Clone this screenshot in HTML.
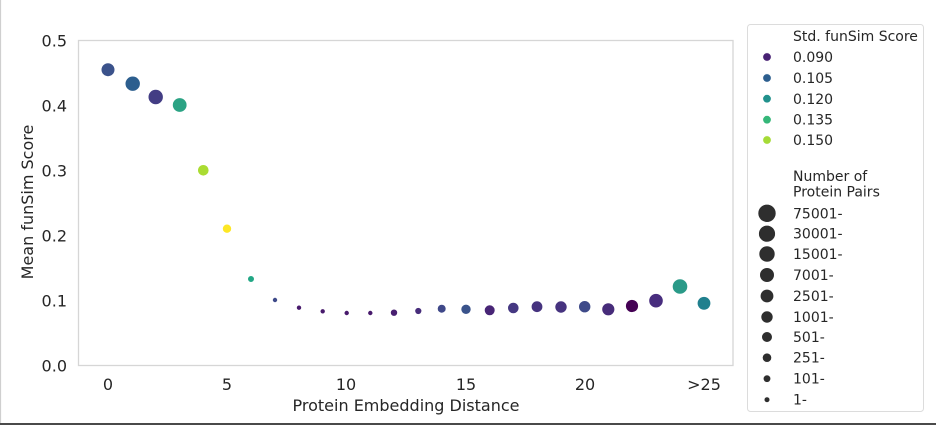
<!DOCTYPE html>
<html><head><meta charset="utf-8">
<style>
html,body{margin:0;padding:0;background:#fff;}
body{width:936px;height:426px;overflow:hidden;}
svg text{font-family:"DejaVu Sans","Liberation Sans",sans-serif;fill:#262626;}
</style></head><body>
<svg width="936" height="426" viewBox="0 0 936 426" xmlns="http://www.w3.org/2000/svg">
<rect x="0" y="0" width="936" height="426" fill="#fff"/>
<line x1="0.5" y1="0" x2="0.5" y2="423" stroke="#cfcfcf" stroke-width="1.2"/>
<line x1="0" y1="424" x2="936" y2="424" stroke="#4a4a4a" stroke-width="2"/>
<!-- plot frame -->
<rect x="78.5" y="40.5" width="654.5" height="325" fill="none" stroke="#d6d6d6" stroke-width="1.3"/>
<!-- y ticks -->
<g font-size="16" text-anchor="end">
<text x="67" y="46.5">0.5</text>
<text x="67" y="111.5">0.4</text>
<text x="67" y="176.5">0.3</text>
<text x="67" y="241.5">0.2</text>
<text x="67" y="306.5">0.1</text>
<text x="67" y="371.5">0.0</text>
</g>
<g font-size="16" text-anchor="middle">
<text x="108" y="390">0</text>
<text x="227" y="390">5</text>
<text x="346" y="390">10</text>
<text x="466" y="390">15</text>
<text x="585" y="390">20</text>
<text x="704" y="390">&gt;25</text>
<text x="406" y="411">Protein Embedding Distance</text>
<text transform="translate(33,202) rotate(-90)">Mean funSim Score</text>
</g>
<!-- points -->
<g stroke="#fff" stroke-width="0.8">
<circle cx="108" cy="69.7" r="6.9" fill="#3b528b"/>
<circle cx="132.7" cy="83.7" r="7.6" fill="#2c5e8e"/>
<circle cx="155.7" cy="97" r="7.6" fill="#433d84"/>
<circle cx="179.7" cy="105" r="7.3" fill="#2ba384"/>
<circle cx="203.3" cy="170.3" r="5.7" fill="#aadc32"/>
<circle cx="227" cy="228.7" r="4.6" fill="#fde725"/>
<circle cx="251" cy="279" r="3.4" fill="#22a785"/>
<circle cx="275" cy="300" r="2.6" fill="#3e4a89"/>
<circle cx="299" cy="307.7" r="2.6" fill="#481a6c"/>
<circle cx="322.7" cy="311.3" r="2.6" fill="#481a6c"/>
<circle cx="346.7" cy="313" r="2.6" fill="#481a6c"/>
<circle cx="370.3" cy="313" r="2.6" fill="#481a6c"/>
<circle cx="394" cy="312.7" r="3.6" fill="#481f70"/>
<circle cx="418.3" cy="311" r="3.5" fill="#472d7b"/>
<circle cx="441.7" cy="308.7" r="4.4" fill="#3f4889"/>
<circle cx="466" cy="309.3" r="5.1" fill="#3a538b"/>
<circle cx="489.7" cy="310.3" r="5.4" fill="#482576"/>
<circle cx="513.3" cy="308" r="5.7" fill="#453882"/>
<circle cx="537" cy="306.7" r="5.8" fill="#46337f"/>
<circle cx="561" cy="307" r="6.1" fill="#46337f"/>
<circle cx="584.7" cy="306.7" r="6.1" fill="#3e4a89"/>
<circle cx="608.3" cy="309.3" r="6.5" fill="#472c7a"/>
<circle cx="632" cy="306" r="6.5" fill="#440154"/>
<circle cx="656" cy="300.7" r="7.2" fill="#482d7e"/>
<circle cx="680" cy="286.5" r="7.7" fill="#2a9a88"/>
<circle cx="704" cy="303.3" r="6.8" fill="#20808e"/>
</g>
<!-- legend -->
<rect x="747.5" y="24.5" width="176" height="387" rx="3" ry="3" fill="#fff" stroke="#dcdcdc" stroke-width="1"/>
<g font-size="14">
<text x="793" y="41">Std. funSim Score</text>
<text x="793" y="62">0.090</text>
<text x="793" y="83">0.105</text>
<text x="793" y="104">0.120</text>
<text x="793" y="124.7">0.135</text>
<text x="793" y="145">0.150</text>
<text x="793" y="181">Number of</text>
<text x="793" y="196.7">Protein Pairs</text>
<text x="793" y="218.3">75001-</text>
<text x="793" y="238.7">30001-</text>
<text x="793" y="259">15001-</text>
<text x="793" y="280">7001-</text>
<text x="793" y="301">2501-</text>
<text x="793" y="322">1001-</text>
<text x="793" y="342">501-</text>
<text x="793" y="362.7">251-</text>
<text x="793" y="383.7">101-</text>
<text x="793" y="404.7">1-</text>
</g>
<g stroke="#fff" stroke-width="0.6">
<circle cx="767" cy="57" r="4.2" fill="#482173"/>
<circle cx="767" cy="78" r="4.2" fill="#2c5e8e"/>
<circle cx="767" cy="98.7" r="4.2" fill="#21918c"/>
<circle cx="767" cy="119.7" r="4.2" fill="#35b779"/>
<circle cx="767" cy="140" r="4.2" fill="#a5db36"/>
</g>
<g fill="#2e2e2e" stroke="#fff" stroke-width="0.6">
<circle cx="767" cy="213.3" r="9" />
<circle cx="767" cy="233.7" r="8.4" />
<circle cx="767" cy="254" r="8" />
<circle cx="767" cy="275" r="7.3" />
<circle cx="767" cy="296" r="6.7" />
<circle cx="767" cy="317" r="6" />
<circle cx="767" cy="337" r="5.3" />
<circle cx="767" cy="357.7" r="4.6" />
<circle cx="767" cy="378.7" r="3.7" />
<circle cx="767" cy="399.7" r="2.8" />
</g>
</svg>
</body></html>
